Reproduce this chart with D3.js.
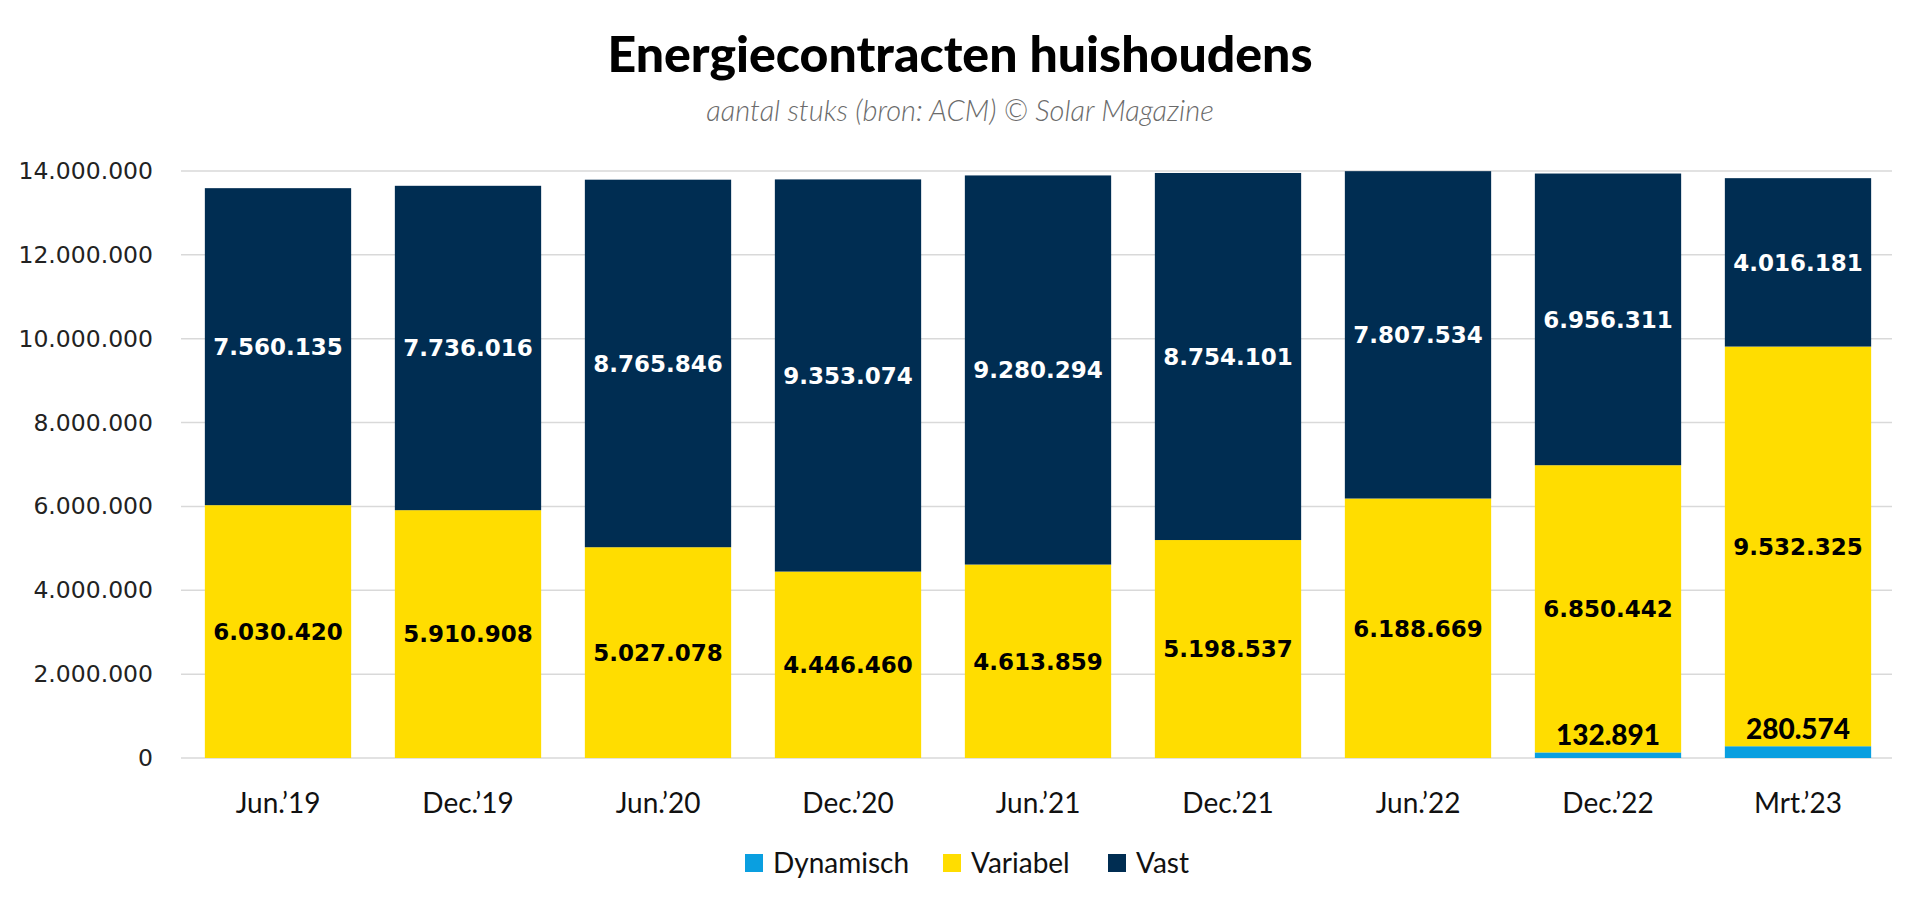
<!DOCTYPE html>
<html>
<head>
<meta charset="utf-8">
<script src="https://cdn.jsdelivr.net/npm/d3@7"></script>
<style>
  body { margin: 0; background: #fff; }
  svg { display: block; }
</style>
</head>
<body>
<div id="chart"></div>
<script>
const width = 1920;
const height = 911;

const categories = ["Jun.\u201919", "Dec.\u201919", "Jun.\u201920", "Dec.\u201920", "Jun.\u201921", "Dec.\u201921", "Jun.\u201922", "Dec.\u201922", "Mrt.\u201923"];
const dynamisch = [0, 0, 0, 0, 0, 0, 0, 132891, 280574];
const variabel = [6030420, 5910908, 5027078, 4446460, 4613859, 5198537, 6188669, 6850442, 9532325];
const vast = [7560135, 7736016, 8765846, 9353074, 9280294, 8754101, 7807534, 6956311, 4016181];
const seriesNames = ["Dynamisch", "Variabel", "Vast"];
const yTicks = [0, 2000000, 4000000, 6000000, 8000000, 10000000, 12000000, 14000000];

const colors = { Dynamisch: "#0a9fe0", Variabel: "#ffdd00", Vast: "#002d52" };

const rows = categories.map((c, i) => ({
    cat: c, Dynamisch: dynamisch[i], Variabel: variabel[i], Vast: vast[i]
}));

const svg = d3.select("#chart").append("svg")
    .attr("width", width)
    .attr("height", height);

const x = d3.scaleBand()
    .domain(categories)
    .range([183, 1893])
    .paddingInner(0.23)
    .paddingOuter(0.115);

const y = d3.scaleLinear()
    .domain([0, 14000000])
    .range([758, 171]);

// dotted thousands format
const fmt = v => d3.format(",")(v).replace(/,/g, ".");

// title
svg.append("text")
    .attr("x", width / 2).attr("y", 72)
    .attr("text-anchor", "middle")
    .style("font-family", "Lato, 'Noto Sans', sans-serif")
    .style("font-weight", 900)
    .style("font-size", "50px")
    .attr("fill", "#000")
    .text("Energiecontracten huishoudens");

svg.append("text")
    .attr("x", width / 2).attr("y", 121)
    .attr("text-anchor", "middle")
    .style("font-family", "Lato, 'Noto Sans', sans-serif")
    .style("font-style", "italic")
    .style("font-weight", 300)
    .style("font-size", "29px")
    .attr("fill", "#6b6b6b")
    .text("aantal stuks (bron: ACM) \u00a9 Solar Magazine");

// gridlines
svg.append("g")
    .selectAll("line")
    .data(yTicks)
    .enter().append("line")
    .attr("x1", 181).attr("x2", 1892)
    .attr("y1", d => y(d)).attr("y2", d => y(d))
    .attr("stroke", "#d9d9d9")
    .attr("stroke-width", 1.5);

// y axis
const yAxis = svg.append("g")
    .attr("transform", "translate(153,0)")
    .call(d3.axisLeft(y).tickValues(yTicks).tickFormat(fmt).tickSize(0).tickPadding(0));
yAxis.select(".domain").remove();
yAxis.selectAll("text")
    .style("font-family", "'DejaVu Sans', Verdana, sans-serif")
    .style("font-size", "23.5px")
    .attr("fill", "#222");

// stacked bars
const stack = d3.stack().keys(seriesNames);
const layers = stack(rows);

const layerG = svg.append("g")
    .selectAll("g")
    .data(layers)
    .enter().append("g")
    .attr("fill", d => colors[d.key]);

layerG.selectAll("rect")
    .data(d => d)
    .enter().append("rect")
    .attr("x", d => x(d.data.cat))
    .attr("width", x.bandwidth())
    .attr("y", d => y(d[1]))
    .attr("height", d => y(d[0]) - y(d[1]));

// value labels for Variabel and Vast (centered)
layers.filter(l => l.key !== "Dynamisch").forEach(l => {
    svg.append("g")
        .selectAll("text")
        .data(l)
        .enter().append("text")
        .attr("x", d => x(d.data.cat) + x.bandwidth() / 2)
        .attr("y", d => y((d[0] + d[1]) / 2))
        .attr("dy", "0.36em")
        .attr("text-anchor", "middle")
        .style("font-family", "'DejaVu Sans', Verdana, sans-serif")
        .style("font-weight", "bold")
        .style("font-size", "23px")
        .attr("fill", l.key === "Vast" ? "#fff" : "#000")
        .text(d => fmt(d[1] - d[0]));
});

// Dynamisch labels, just above the thin segment
svg.append("g")
    .selectAll("text")
    .data(layers[0].filter(d => d[1] - d[0] > 0))
    .enter().append("text")
    .attr("x", d => x(d.data.cat) + x.bandwidth() / 2)
    .attr("y", d => y(d[1]) - 7)
    .attr("text-anchor", "middle")
    .style("font-family", "Lato, 'Noto Sans', sans-serif")
    .style("font-weight", 900)
    .style("font-size", "28px")
    .attr("fill", "#000")
    .text(d => fmt(d[1] - d[0]));

// x axis
const xAxis = svg.append("g")
    .attr("transform", "translate(0,758)")
    .call(d3.axisBottom(x).tickSize(0).tickPadding(0));
xAxis.select(".domain").remove();
xAxis.selectAll("text")
    .attr("y", 55)
    .attr("dy", 0)
    .style("font-family", "Lato, 'Noto Sans', sans-serif")
    .style("font-size", "28px")
    .attr("fill", "#111");

// legend
const legendX = [745, 943, 1108];
const legend = svg.append("g")
    .selectAll("g")
    .data(seriesNames)
    .enter().append("g")
    .attr("transform", (d, i) => `translate(${legendX[i]},854)`);
legend.append("rect")
    .attr("width", 18).attr("height", 18)
    .attr("fill", d => colors[d]);
legend.append("text")
    .attr("x", 28).attr("y", 19)
    .style("font-family", "Lato, 'Noto Sans', sans-serif")
    .style("font-size", "28px")
    .attr("fill", "#111")
    .text(d => d);
</script>
</body>
</html>
